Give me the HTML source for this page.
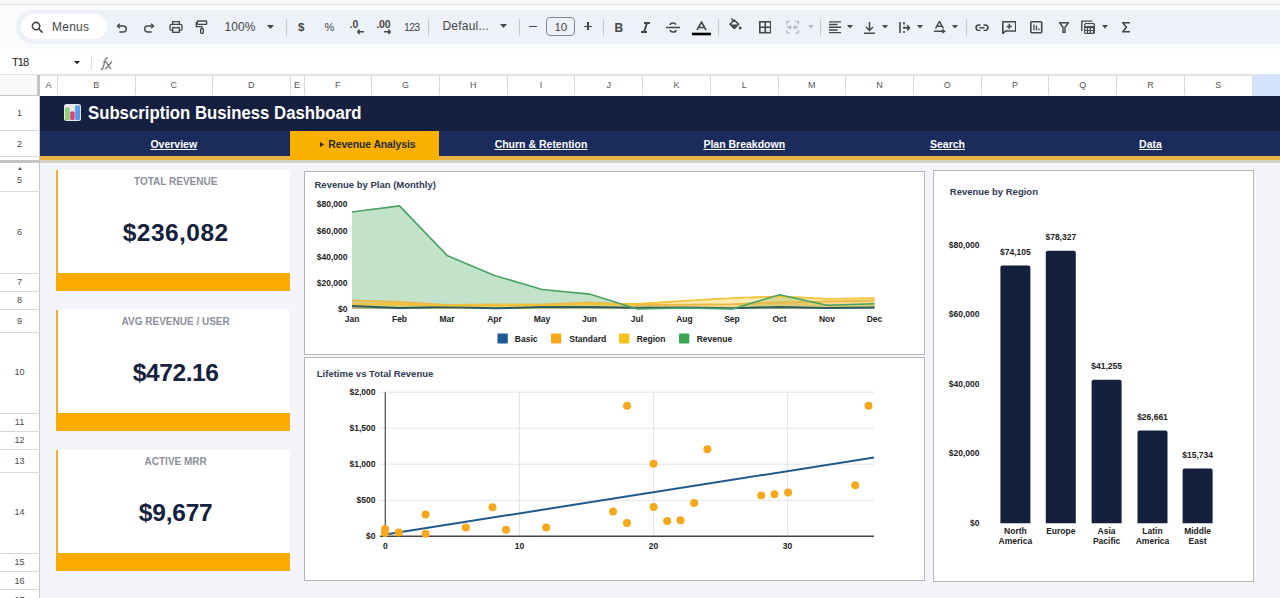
<!DOCTYPE html>
<html><head><meta charset="utf-8"><style>
*{box-sizing:border-box;margin:0;padding:0}
html,body{width:1280px;height:598px;overflow:hidden;background:#fff;font-family:"Liberation Sans",sans-serif}
.a{position:absolute}
.tt{color:#444746;font-size:13.5px;line-height:14px;white-space:nowrap}
.dv{position:absolute;width:1px;height:17px;top:18px;background:#c7c7c7}
.ic{position:absolute;top:17px;width:20px;height:20px}
.ch{position:absolute;top:74.8px;height:20px;color:#555;font-size:9px;text-align:center;line-height:20px}
.cl{position:absolute;top:75px;height:20px;width:1px;background:#d9d9d9}
.rh{position:absolute;left:0;width:39px;color:#4a4a4a;font-size:9px;text-align:center}
.rl{position:absolute;left:0;width:39.5px;height:1px;background:#d9d9d9}
.card{position:absolute;background:#fff;border-left:2.6px solid #f1b02a}
.bar{position:absolute;background:#fbab00}
.klbl{position:absolute;color:#8b909b;font-weight:bold;font-size:10px;text-align:center}
.kval{position:absolute;color:#16213e;font-weight:bold;font-size:24.5px;text-align:center;line-height:30px}
.chart{position:absolute;background:#fff;border:1px solid #b5b5b5}
.nav{position:absolute;color:#fff;font-weight:bold;font-size:10.5px;text-decoration:underline;text-align:center;line-height:14px;top:137px;white-space:nowrap}
svg text{font-family:"Liberation Sans",sans-serif}
</style></head><body>
<div class="a" style="left:0;top:0;width:1280px;height:4px;background:#f8f8f7"></div>
<div class="a" style="left:0;top:4px;width:1280px;height:1px;background:#e3e3e3"></div>
<div class="a" style="left:0;top:5px;width:1280px;height:44px;background:#f9fbfd"></div>
<div class="a" style="left:16px;top:10px;width:1300px;height:34px;background:#eef2f8;border-radius:17px"></div>
<div class="a" style="left:21px;top:14px;width:86px;height:25px;background:#fff;border-radius:12.5px"></div>
<svg class="a" style="left:30.6px;top:20.6px" width="12" height="12" viewBox="0 0 13 13"><circle cx="5.5" cy="5.5" r="4" fill="none" stroke="#444746" stroke-width="1.7"/><path d="M8.4 8.4L12 12" stroke="#444746" stroke-width="1.8" stroke-linecap="round"/></svg>
<div class="a tt" style="left:52px;top:19.6px;font-size:12px;letter-spacing:0.25px">Menus</div>
<svg class="a" style="left:113.5px;top:19.0px" width="16" height="16" viewBox="0 0 24 24"><path d="M9 7L5 10.5L9 14" fill="none" stroke="#444746" stroke-width="2" stroke-linejoin="round"/><path d="M5.5 10.5H14a4.5 4.5 0 0 1 0 9H8" fill="none" stroke="#444746" stroke-width="2"/></svg>
<svg class="a" style="left:140.5px;top:19.0px" width="16" height="16" viewBox="0 0 24 24"><g transform="translate(24,0) scale(-1,1)"><path d="M9 7L5 10.5L9 14" fill="none" stroke="#444746" stroke-width="2" stroke-linejoin="round"/><path d="M5.5 10.5H14a4.5 4.5 0 0 1 0 9H8" fill="none" stroke="#444746" stroke-width="2"/></g></svg>
<svg class="a" style="left:168.0px;top:19.0px" width="16" height="16" viewBox="0 0 24 24"><path d="M7 8V4h10v4" fill="none" stroke="#444746" stroke-width="2"/><rect x="3" y="8" width="18" height="9" rx="2.5" fill="none" stroke="#444746" stroke-width="2"/><rect x="7" y="13" width="10" height="7" fill="#eef2f8" stroke="#444746" stroke-width="2"/></svg>
<svg class="a" style="left:194.0px;top:18.0px" width="16" height="18" viewBox="0 0 24 24"><rect x="5" y="3" width="14" height="5" rx="1" fill="none" stroke="#444746" stroke-width="2"/><path d="M5 5.5H3.5v6H12v3" fill="none" stroke="#444746" stroke-width="2"/><rect x="10" y="14.5" width="4" height="7" rx="1" fill="none" stroke="#444746" stroke-width="2"/></svg>
<div class="a tt" style="left:224.5px;top:20px;font-size:12px;letter-spacing:0.1px">100%</div>
<svg class="a" style="left:266.5px;top:24.5px" width="7" height="4" viewBox="0 0 7 4"><path d="M0 0h7L3.5 4z" fill="#444746"/></svg>
<div class="dv" style="left:285.5px;top:19px"></div>
<div class="a tt" style="left:298px;top:20px;font-size:11.5px;font-weight:bold">$</div>
<div class="a tt" style="left:324.5px;top:19.5px;font-size:11px">%</div>
<svg class="a" style="left:348px;top:15px" width="24" height="22" viewBox="0 0 24 22"><text x="1.5" y="13.2" font-size="10.5" font-weight="bold" fill="#444746">.0</text><path d="M9.5 16.7h6.5M9.5 16.7l2.2-2.2M9.5 16.7l2.2 2.2" stroke="#444746" stroke-width="1.5" fill="none"/></svg>
<svg class="a" style="left:375px;top:15px" width="24" height="22" viewBox="0 0 24 22"><text x="1.5" y="13.2" font-size="10.5" font-weight="bold" fill="#444746" letter-spacing="-0.3">.00</text><path d="M9 16.7h6.5M15.5 16.7l-2.2-2.2M15.5 16.7l-2.2 2.2" stroke="#444746" stroke-width="1.5" fill="none"/></svg>
<div class="a tt" style="left:404px;top:19.8px;font-size:10.5px;letter-spacing:-0.7px">123</div>
<div class="dv" style="left:428px;top:19px"></div>
<div class="a tt" style="left:442.5px;top:18.9px;font-size:12px;letter-spacing:0.2px">Defaul...</div>
<svg class="a" style="left:499.5px;top:24.3px" width="7" height="4" viewBox="0 0 7 4"><path d="M0 0h7L3.5 4z" fill="#444746"/></svg>
<div class="dv" style="left:519px;top:19px"></div>
<div class="a" style="left:528.8px;top:25.7px;width:8.5px;height:1.4px;background:#444746"></div>
<div class="a" style="left:546.3px;top:16.9px;width:29px;height:19.6px;border:1px solid #80868b;border-radius:4px"></div>
<div class="a tt" style="left:546.3px;width:29px;text-align:center;top:19.6px;font-size:11.5px">10</div>
<div class="a" style="left:583.8px;top:25.8px;width:8.2px;height:1.4px;background:#444746"></div>
<div class="a" style="left:587.2px;top:22.3px;width:1.4px;height:8.2px;background:#444746"></div>
<div class="dv" style="left:602.5px;top:19px"></div>
<div class="a tt" style="left:614.5px;top:21px;font-size:12px;font-weight:bold">B</div>
<svg class="a" style="left:641px;top:22px" width="9" height="11" viewBox="0 0 9 11"><path d="M3 1h6M0 10h6M6 1L3 10" stroke="#444746" stroke-width="1.9" fill="none"/></svg>
<svg class="a" style="left:666px;top:22px" width="14" height="11" viewBox="0 0 14 11"><path d="M10 2.6C9.5 1.6 8.4 1 7 1 5.4 1 4.2 1.9 4.2 3.1M3.9 8c.4 1.3 1.5 2 3.1 2 1.8 0 3-.9 3-2.1" stroke="#444746" stroke-width="1.6" fill="none"/><path d="M0 5.5h14" stroke="#444746" stroke-width="1.5"/></svg>
<svg class="a" style="left:692px;top:20.5px" width="19" height="15" viewBox="0 0 19 15"><path d="M5 9L9.5 1l4.5 8M6.7 6.5h5.6" stroke="#444746" stroke-width="1.6" fill="none"/><rect x="0" y="11.7" width="19" height="2.6" fill="#000"/></svg>
<div class="dv" style="left:718px;top:19px"></div>
<svg class="a" style="left:729px;top:18px" width="13" height="12" viewBox="0 0 13 12"><path d="M1 6.2L5.3 2l4.3 4.2L5.3 10.5z" fill="none" stroke="#444746" stroke-width="1.6" stroke-linejoin="round"/><path d="M1.5 6.5h7.7L5.3 10z" fill="#444746"/><path d="M2.3 0.5l3 3" stroke="#444746" stroke-width="1.5"/><circle cx="11.2" cy="10" r="1.4" fill="#444746"/></svg>
<svg class="a" style="left:758.5px;top:21px" width="12.5" height="12.5" viewBox="0 0 12.5 12.5"><rect x="0.8" y="0.8" width="10.9" height="10.9" fill="none" stroke="#444746" stroke-width="1.6"/><path d="M6.25 0.8v10.9M0.8 6.25h10.9" stroke="#444746" stroke-width="1.6"/></svg>
<svg class="a" style="left:786px;top:21px" width="13" height="12.5" viewBox="0 0 13 12.5"><path d="M0.7 3.5V0.7h3M9.3 0.7h3v2.8M0.7 9v2.8h3M9.3 11.8h3V9M1 6.25h3.8M12 6.25H8.2M3.5 4.5L5.2 6.25 3.5 8M9.5 4.5L7.8 6.25 9.5 8" stroke="#b5b8bd" stroke-width="1.3" fill="none"/></svg>
<svg class="a" style="left:807.5px;top:25.25px" width="6" height="3.5" viewBox="0 0 6 3.5"><path d="M0 0h6L3.0 3.5z" fill="#b5b8bd"/></svg>
<div class="dv" style="left:820px;top:19px"></div>
<svg class="a" style="left:828.7px;top:21px" width="12.5" height="12.5" viewBox="0 0 12.5 12.5"><path d="M0 0.8h12.3M0 3.5h8.5M0 6.25h12.3M0 9h8.5M0 11.7h12.3" stroke="#444746" stroke-width="1.3"/></svg>
<svg class="a" style="left:847.2px;top:25.45px" width="6" height="3.5" viewBox="0 0 6 3.5"><path d="M0 0h6L3.0 3.5z" fill="#444746"/></svg>
<svg class="a" style="left:863.5px;top:21.5px" width="11" height="12" viewBox="0 0 11 12"><path d="M5.5 0v8M2 5l3.5 3.5L9 5M0 11.2h11" stroke="#444746" stroke-width="1.5" fill="none"/></svg>
<svg class="a" style="left:882.2px;top:25.45px" width="6" height="3.5" viewBox="0 0 6 3.5"><path d="M0 0h6L3.0 3.5z" fill="#444746"/></svg>
<svg class="a" style="left:898.5px;top:21.5px" width="11" height="11.5" viewBox="0 0 11 11.5"><path d="M1 0v11.5M5 0v2.5M5 4.5v2.5M5 9v2.5M4.5 5.75h6M8 3.2l2.6 2.55L8 8.3" stroke="#444746" stroke-width="1.6" fill="none"/></svg>
<svg class="a" style="left:917.2px;top:25.45px" width="6" height="3.5" viewBox="0 0 6 3.5"><path d="M0 0h6L3.0 3.5z" fill="#444746"/></svg>
<svg class="a" style="left:934px;top:21px" width="12" height="13" viewBox="0 0 12 13"><path d="M1.5 7.5L5.5 0.5l4 7M2.8 5.2h5.4M0 10.3h9.5M8.3 8.6l2.2 1.7-2.2 1.7" stroke="#444746" stroke-width="1.5" fill="none"/></svg>
<svg class="a" style="left:951.7px;top:25.45px" width="6" height="3.5" viewBox="0 0 6 3.5"><path d="M0 0h6L3.0 3.5z" fill="#444746"/></svg>
<div class="dv" style="left:965.5px;top:19px"></div>
<svg class="a" style="left:975px;top:23.5px" width="14" height="7.5" viewBox="0 0 14 7.5"><path d="M5.5 1H3.8a2.75 2.75 0 0 0 0 5.5h1.7M8.5 1h1.7a2.75 2.75 0 0 1 0 5.5H8.5M4.5 3.75h5" stroke="#444746" stroke-width="1.6" fill="none"/></svg>
<svg class="a" style="left:1001.5px;top:20.5px" width="14.5" height="13" viewBox="0 0 14.5 13"><path d="M0.8 0.8h12.9v9.2H3.6L0.8 12.5z" stroke="#444746" stroke-width="1.6" fill="none" stroke-linejoin="round"/><path d="M7.25 2.8v5.2M4.65 5.4h5.2" stroke="#444746" stroke-width="1.5"/></svg>
<svg class="a" style="left:1030px;top:21px" width="12.5" height="12.5" viewBox="0 0 12.5 12.5"><rect x="0.8" y="0.8" width="10.9" height="10.9" rx="1" stroke="#444746" stroke-width="1.6" fill="none"/><path d="M4 9.3V3.5M6.5 9.3V4.5M9 9.3V7.5" stroke="#444746" stroke-width="1.3"/></svg>
<svg class="a" style="left:1058.5px;top:22px" width="10" height="10.5" viewBox="0 0 10 10.5"><path d="M0.5 0.8h9L6 5.3v5.2H4V5.3z" stroke="#444746" stroke-width="1.4" fill="none" stroke-linejoin="round"/></svg>
<svg class="a" style="left:1080px;top:19px" width="16" height="16" viewBox="0 0 16 16"><path d="M1.8 12V2.1H12.3" stroke="#444746" stroke-width="1.4" fill="none"/><rect x="4.1" y="4" width="10.8" height="11" rx="1.5" fill="#444746"/><g fill="#eef2f8"><rect x="5.4" y="5.1" width="8.2" height="2"/><rect x="5.2" y="9.1" width="1.7" height="1.9"/><rect x="8.1" y="9.1" width="1.7" height="1.9"/><rect x="11" y="9.1" width="2" height="1.9"/><rect x="5.2" y="12" width="1.7" height="1.8"/><rect x="8.1" y="12" width="1.7" height="1.8"/><rect x="11" y="12" width="2" height="1.8"/></g></svg>
<svg class="a" style="left:1101.5px;top:25.25px" width="6" height="3.5" viewBox="0 0 6 3.5"><path d="M0 0h6L3.0 3.5z" fill="#444746"/></svg>
<svg class="a" style="left:1121.5px;top:22px" width="8.5" height="10.5" viewBox="0 0 8.5 10.5"><path d="M8 0.8H0.8l3.6 4.45L0.8 9.7H8" stroke="#444746" stroke-width="1.6" fill="none"/></svg>
<div class="a" style="left:12px;top:56px;font-size:11px;color:#202124;letter-spacing:-0.9px">T18</div>
<svg class="a" style="left:74.0px;top:60.6px" width="6" height="3.2" viewBox="0 0 6 3.2"><path d="M0 0h6L3.0 3.2z" fill="#202124"/></svg>
<div class="a" style="left:91px;top:56px;width:1px;height:14px;background:#dadce0"></div>
<svg class="a" style="left:100px;top:56.5px" width="13" height="13" viewBox="0 0 13 13"><path d="M0.6 12.1Q2.5 12.9 3.3 10L5.2 2.9Q5.9 0.6 7.9 1.1M3.2 4.9H6.9M6 4.8L10.9 12.2M11.9 4.8L5.3 12.2" stroke="#7a7a7a" stroke-width="1.3" fill="none"/></svg>
<div class="a" style="left:0;top:74px;width:1280px;height:1.7px;background:#e2e2e2"></div>
<div class="a" style="left:0;top:75px;width:36.5px;height:20.5px;background:#f8f9fa"></div>
<div class="a" style="left:36.5px;top:75px;width:3px;height:20.5px;background:#c4c4c4"></div>
<div class="a" style="left:1252px;top:75px;width:28px;height:20.5px;background:#d3e3fd"></div>
<div class="ch" style="left:39.5px;width:18.0px">A</div>
<div class="ch" style="left:57.5px;width:77.5px">B</div>
<div class="cl" style="left:57.0px"></div>
<div class="ch" style="left:135px;width:77.5px">C</div>
<div class="cl" style="left:134.5px"></div>
<div class="ch" style="left:212.5px;width:77.5px">D</div>
<div class="cl" style="left:212.0px"></div>
<div class="ch" style="left:290px;width:14px">E</div>
<div class="cl" style="left:289.5px"></div>
<div class="ch" style="left:304.0px;width:67.71428571428572px">F</div>
<div class="cl" style="left:303.5px"></div>
<div class="ch" style="left:371.7142857142857px;width:67.71428571428572px">G</div>
<div class="cl" style="left:371.2142857142857px"></div>
<div class="ch" style="left:439.42857142857144px;width:67.71428571428572px">H</div>
<div class="cl" style="left:438.92857142857144px"></div>
<div class="ch" style="left:507.14285714285717px;width:67.71428571428572px">I</div>
<div class="cl" style="left:506.64285714285717px"></div>
<div class="ch" style="left:574.8571428571429px;width:67.71428571428567px">J</div>
<div class="cl" style="left:574.3571428571429px"></div>
<div class="ch" style="left:642.5714285714286px;width:67.71428571428567px">K</div>
<div class="cl" style="left:642.0714285714286px"></div>
<div class="ch" style="left:710.2857142857142px;width:67.71428571428567px">L</div>
<div class="cl" style="left:709.7857142857142px"></div>
<div class="ch" style="left:777.9999999999999px;width:67.71428571428567px">M</div>
<div class="cl" style="left:777.4999999999999px"></div>
<div class="ch" style="left:845.7142857142856px;width:67.71428571428567px">N</div>
<div class="cl" style="left:845.2142857142856px"></div>
<div class="ch" style="left:913.4285714285712px;width:67.71428571428567px">O</div>
<div class="cl" style="left:912.9285714285712px"></div>
<div class="ch" style="left:981.1428571428569px;width:67.71428571428578px">P</div>
<div class="cl" style="left:980.6428571428569px"></div>
<div class="ch" style="left:1048.8571428571427px;width:67.71428571428578px">Q</div>
<div class="cl" style="left:1048.3571428571427px"></div>
<div class="ch" style="left:1116.5714285714284px;width:67.71428571428578px">R</div>
<div class="cl" style="left:1116.0714285714284px"></div>
<div class="ch" style="left:1184.2857142857142px;width:67.71428571428578px">S</div>
<div class="cl" style="left:1183.7857142857142px"></div>
<div class="cl" style="left:1251.5px"></div>
<div class="a" style="left:0;top:95px;width:39.5px;height:1px;background:#c4c4c4"></div>
<div class="a" style="left:39.5px;top:160px;width:1241px;height:438px;background:#f3f5fa"></div>
<div class="a" style="left:0;top:95.5px;width:39.5px;height:503px;background:#fff"></div>
<div class="a" style="left:39px;top:95.5px;width:1px;height:503px;background:#c6c6c6"></div>
<div class="rh" style="top:95.5px;height:35.0px;line-height:35.0px">1</div>
<div class="rl" style="top:130.0px"></div>
<div class="rh" style="top:130.5px;height:26.0px;line-height:26.0px">2</div>
<div class="rl" style="top:156.0px"></div>
<div class="rh" style="top:170px;height:21.80000000000001px;line-height:21.80000000000001px">5</div>
<div class="rl" style="top:191.3px"></div>
<div class="rh" style="top:191.8px;height:81.19999999999999px;line-height:81.19999999999999px">6</div>
<div class="rl" style="top:272.5px"></div>
<div class="rh" style="top:273px;height:18.399999999999977px;line-height:18.399999999999977px">7</div>
<div class="rl" style="top:290.9px"></div>
<div class="rh" style="top:291.4px;height:18.400000000000034px;line-height:18.400000000000034px">8</div>
<div class="rl" style="top:309.3px"></div>
<div class="rh" style="top:309.8px;height:22.399999999999977px;line-height:22.399999999999977px">9</div>
<div class="rl" style="top:331.7px"></div>
<div class="rh" style="top:332.2px;height:80.80000000000001px;line-height:80.80000000000001px">10</div>
<div class="rl" style="top:412.5px"></div>
<div class="rh" style="top:413px;height:18.399999999999977px;line-height:18.399999999999977px">11</div>
<div class="rl" style="top:430.9px"></div>
<div class="rh" style="top:431.4px;height:18.400000000000034px;line-height:18.400000000000034px">12</div>
<div class="rl" style="top:449.3px"></div>
<div class="rh" style="top:449.8px;height:22.399999999999977px;line-height:22.399999999999977px">13</div>
<div class="rl" style="top:471.7px"></div>
<div class="rh" style="top:472.2px;height:81.00000000000006px;line-height:81.00000000000006px">14</div>
<div class="rl" style="top:552.7px"></div>
<div class="rh" style="top:553.2px;height:18.399999999999977px;line-height:18.399999999999977px">15</div>
<div class="rl" style="top:571.1px"></div>
<div class="rh" style="top:571.6px;height:18.0px;line-height:18.0px">16</div>
<div class="rl" style="top:589.1px"></div>
<div class="rh" style="top:589.6px;height:20.399999999999977px;line-height:20.399999999999977px">17</div>
<div class="rl" style="top:609.5px"></div>
<div class="a" style="left:39.5px;top:95.5px;width:1241px;height:35px;background:#152040"></div>
<div class="a" style="left:39.5px;top:130.5px;width:1241px;height:26px;background:#1b2b5c"></div>
<div class="a" style="left:39.5px;top:156px;width:1241px;height:4px;background:#e7b143"></div>
<div class="a" style="left:290px;top:130.5px;width:149px;height:29.5px;background:#fab000"></div>
<div class="a" style="left:0;top:159.5px;width:39.5px;height:3.5px;background:#c4c4c4"></div>
<div class="a" style="left:39.5px;top:160px;width:1241px;height:3px;background:#d6d2c8"></div>
<svg class="a" style="left:18.3px;top:166.8px" width="4" height="3" viewBox="0 0 4 3"><path d="M0 3L2 0l2 3z" fill="#555"/></svg>
<svg class="a" style="left:63.8px;top:104px" width="17" height="17" viewBox="0 0 17 17"><rect x="0" y="0" width="17" height="17" rx="2.5" fill="#e6e8ef"/><rect x="1" y="3.5" width="4.8" height="12.5" rx="1" fill="#8ed37a"/><rect x="6.2" y="7.5" width="4.4" height="8.5" rx="1" fill="#d9467a"/><rect x="11.1" y="1.5" width="4.9" height="14.5" rx="1" fill="#5b9be8"/></svg>
<div class="a" style="left:88px;top:101.5px;color:#fff;font-weight:bold;font-size:18px;line-height:22px;white-space:nowrap;transform:scaleX(0.93);transform-origin:0 0">Subscription Business Dashboard</div>
<div class="nav" style="left:57.5px;width:232.5px">Overview</div>
<div class="nav" style="left:439.5px;width:203.0px">Churn &amp; Retention</div>
<div class="nav" style="left:642.5px;width:203.5px">Plan Breakdown</div>
<div class="nav" style="left:846px;width:203px">Search</div>
<div class="nav" style="left:1049px;width:203px">Data</div>
<div class="nav" style="left:328.3px;color:#2a2a2e;text-decoration:none;text-align:left;letter-spacing:-0.15px">Revenue Analysis</div>
<svg class="a" style="left:319.8px;top:141.6px" width="4" height="5" viewBox="0 0 4 5"><path d="M0 0l4 2.5-4 2.5z" fill="#2a2a2e"/></svg>
<div class="card" style="left:56px;top:169.7px;width:234px;height:121.70000000000002px"></div>
<div class="bar" style="left:56px;top:273.0px;width:234px;height:18.4px"></div>
<div class="klbl" style="left:60.2px;top:175.7px;width:231px">TOTAL REVENUE</div>
<div class="kval" style="left:60.2px;top:218.0px;width:231px;letter-spacing:0.45px">$236,082</div>
<div class="card" style="left:56px;top:309.6px;width:234px;height:121.70000000000002px"></div>
<div class="bar" style="left:56px;top:412.90000000000003px;width:234px;height:18.4px"></div>
<div class="klbl" style="left:60.2px;top:315.6px;width:231px">AVG REVENUE / USER</div>
<div class="kval" style="left:60.2px;top:357.90000000000003px;width:231px;letter-spacing:-0.4px">$472.16</div>
<div class="card" style="left:56px;top:449.6px;width:234px;height:121.70000000000002px"></div>
<div class="bar" style="left:56px;top:552.9px;width:234px;height:18.4px"></div>
<div class="klbl" style="left:60.2px;top:455.6px;width:231px">ACTIVE MRR</div>
<div class="kval" style="left:60.2px;top:497.90000000000003px;width:231px;letter-spacing:-0.2px">$9,677</div>
<div class="chart" style="left:304px;top:170.5px;width:620.5px;height:184px"></div>
<div class="chart" style="left:304px;top:357px;width:620.5px;height:224px"></div>
<div class="chart" style="left:933px;top:170.3px;width:321px;height:411.5px"></div>
<svg class="a" style="left:0;top:0" width="1280" height="598" viewBox="0 0 1280 598">
<text x="314.5" y="187.8" font-size="9.5" font-weight="bold" fill="#2f3a56">Revenue by Plan (Monthly)</text>
<text x="347.5" y="207.3" font-size="8.5" font-weight="bold" fill="#222" text-anchor="end">$80,000</text>
<text x="347.5" y="233.5" font-size="8.5" font-weight="bold" fill="#222" text-anchor="end">$60,000</text>
<text x="347.5" y="259.8" font-size="8.5" font-weight="bold" fill="#222" text-anchor="end">$40,000</text>
<text x="347.5" y="286.0" font-size="8.5" font-weight="bold" fill="#222" text-anchor="end">$20,000</text>
<text x="347.5" y="312.2" font-size="8.5" font-weight="bold" fill="#222" text-anchor="end">$0</text>
<text x="352.0" y="322" font-size="8.5" font-weight="bold" fill="#222" text-anchor="middle">Jan</text>
<text x="399.5" y="322" font-size="8.5" font-weight="bold" fill="#222" text-anchor="middle">Feb</text>
<text x="447.0" y="322" font-size="8.5" font-weight="bold" fill="#222" text-anchor="middle">Mar</text>
<text x="494.5" y="322" font-size="8.5" font-weight="bold" fill="#222" text-anchor="middle">Apr</text>
<text x="542.0" y="322" font-size="8.5" font-weight="bold" fill="#222" text-anchor="middle">May</text>
<text x="589.5" y="322" font-size="8.5" font-weight="bold" fill="#222" text-anchor="middle">Jun</text>
<text x="637.0" y="322" font-size="8.5" font-weight="bold" fill="#222" text-anchor="middle">Jul</text>
<text x="684.5" y="322" font-size="8.5" font-weight="bold" fill="#222" text-anchor="middle">Aug</text>
<text x="732.0" y="322" font-size="8.5" font-weight="bold" fill="#222" text-anchor="middle">Sep</text>
<text x="779.5" y="322" font-size="8.5" font-weight="bold" fill="#222" text-anchor="middle">Oct</text>
<text x="827.0" y="322" font-size="8.5" font-weight="bold" fill="#222" text-anchor="middle">Nov</text>
<text x="874.5" y="322" font-size="8.5" font-weight="bold" fill="#222" text-anchor="middle">Dec</text>
<polygon points="352.0,309.0 352.0,212.0 399.5,205.9 447.0,255.4 494.5,275.4 542.0,289.5 589.5,294.1 637.0,309.0 684.5,308.0 732.0,309.0 779.5,294.8 827.0,305.3 874.5,303.8 874.5,309.0" fill="#3aa655" fill-opacity="0.31"/>
<polygon points="352.0,309.0 352.0,303.8 399.5,304.0 447.0,305.7 494.5,305.3 542.0,305.1 589.5,303.8 637.0,304.0 684.5,300.9 732.0,298.1 779.5,296.4 827.0,298.8 874.5,298.2 874.5,309.0" fill="#f9c21a" fill-opacity="0.33"/>
<polygon points="352.0,309.0 352.0,300.5 399.5,302.1 447.0,305.1 494.5,304.4 542.0,304.4 589.5,302.4 637.0,305.1 684.5,304.7 732.0,304.3 779.5,302.4 827.0,301.4 874.5,300.5 874.5,309.0" fill="#f7a81b" fill-opacity="0.25"/>
<polygon points="352.0,309.0 352.0,306.1 399.5,308.0 447.0,307.0 494.5,308.3 542.0,307.0 589.5,307.0 637.0,307.7 684.5,307.4 732.0,308.2 779.5,306.9 827.0,308.0 874.5,307.6 874.5,309.0" fill="#1f5a96" fill-opacity="0.2"/>
<polyline points="352.0,306.1 399.5,308.0 447.0,307.0 494.5,308.3 542.0,307.0 589.5,307.0 637.0,307.7 684.5,307.4 732.0,308.2 779.5,306.9 827.0,308.0 874.5,307.6" fill="none" stroke="#2c5e62" stroke-width="2" stroke-linejoin="round"/>
<polyline points="352.0,300.5 399.5,302.1 447.0,305.1 494.5,304.4 542.0,304.4 589.5,302.4 637.0,305.1 684.5,304.7 732.0,304.3 779.5,302.4 827.0,301.4 874.5,300.5" fill="none" stroke="#e9b94a" stroke-width="2" stroke-linejoin="round"/>
<polyline points="352.0,303.8 399.5,304.0 447.0,305.7 494.5,305.3 542.0,305.1 589.5,303.8 637.0,304.0 684.5,300.9 732.0,298.1 779.5,296.4 827.0,298.8 874.5,298.2" fill="none" stroke="#f3c237" stroke-width="1.8" stroke-linejoin="round"/>
<polyline points="352.0,212.0 399.5,205.9 447.0,255.4 494.5,275.4 542.0,289.5 589.5,294.1 637.0,309.0 684.5,308.0 732.0,309.0 779.5,294.8 827.0,305.3 874.5,303.8" fill="none" stroke="#48a362" stroke-width="1.6" stroke-linejoin="round"/>
<rect x="497.5" y="333.5" width="10.3" height="10" rx="1" fill="#1f5a96"/>
<text x="514.8" y="341.5" font-size="8.5" font-weight="bold" fill="#222">Basic</text>
<rect x="551" y="333.5" width="10.3" height="10" rx="1" fill="#f7a81b"/>
<text x="569.3" y="341.5" font-size="8.5" font-weight="bold" fill="#222">Standard</text>
<rect x="619" y="333.5" width="10.3" height="10" rx="1" fill="#f9c21a"/>
<text x="636.7" y="341.5" font-size="8.5" font-weight="bold" fill="#222">Region</text>
<rect x="679" y="333.5" width="10.3" height="10" rx="1" fill="#3aa655"/>
<text x="696.7" y="341.5" font-size="8.5" font-weight="bold" fill="#222">Revenue</text>
<text x="316.8" y="377.3" font-size="9.5" font-weight="bold" fill="#2f3a56">Lifetime vs Total Revenue</text>
<line x1="379" x2="874" y1="500.3" y2="500.3" stroke="#e4e4e4" stroke-width="1"/>
<line x1="379" x2="874" y1="464.2" y2="464.2" stroke="#e4e4e4" stroke-width="1"/>
<line x1="379" x2="874" y1="428.2" y2="428.2" stroke="#e4e4e4" stroke-width="1"/>
<line x1="379" x2="874" y1="392.2" y2="392.2" stroke="#e4e4e4" stroke-width="1"/>
<line x1="519.4" x2="519.4" y1="392.2" y2="536.3" stroke="#e4e4e4" stroke-width="1"/>
<line x1="653.5" x2="653.5" y1="392.2" y2="536.3" stroke="#e4e4e4" stroke-width="1"/>
<line x1="787.6" x2="787.6" y1="392.2" y2="536.3" stroke="#e4e4e4" stroke-width="1"/>
<text x="375.5" y="538.8" font-size="8.5" font-weight="bold" fill="#222" text-anchor="end">$0</text>
<text x="375.5" y="502.8" font-size="8.5" font-weight="bold" fill="#222" text-anchor="end">$500</text>
<text x="375.5" y="466.8" font-size="8.5" font-weight="bold" fill="#222" text-anchor="end">$1,000</text>
<text x="375.5" y="430.7" font-size="8.5" font-weight="bold" fill="#222" text-anchor="end">$1,500</text>
<text x="375.5" y="394.7" font-size="8.5" font-weight="bold" fill="#222" text-anchor="end">$2,000</text>
<text x="385.3" y="548.5" font-size="8.5" font-weight="bold" fill="#222" text-anchor="middle">0</text>
<text x="519.4" y="548.5" font-size="8.5" font-weight="bold" fill="#222" text-anchor="middle">10</text>
<text x="653.5" y="548.5" font-size="8.5" font-weight="bold" fill="#222" text-anchor="middle">20</text>
<text x="787.6" y="548.5" font-size="8.5" font-weight="bold" fill="#222" text-anchor="middle">30</text>
<line x1="385.3" x2="385.3" y1="392.2" y2="536.3" stroke="#555" stroke-width="1.3"/>
<line x1="380" x2="874" y1="536.3" y2="536.3" stroke="#444" stroke-width="1.6"/>
<line x1="385.3" y1="534.5" x2="874" y2="457.5" stroke="#1f5a8a" stroke-width="2"/>
<circle cx="385" cy="529" r="4" fill="#f5a81c"/>
<circle cx="385" cy="533" r="4" fill="#f5a81c"/>
<circle cx="398.75" cy="532.5" r="4" fill="#f5a81c"/>
<circle cx="425.6" cy="514.5" r="4" fill="#f5a81c"/>
<circle cx="425.6" cy="533.75" r="4" fill="#f5a81c"/>
<circle cx="465.8" cy="527.5" r="4" fill="#f5a81c"/>
<circle cx="492.5" cy="507.2" r="4" fill="#f5a81c"/>
<circle cx="506" cy="529.8" r="4" fill="#f5a81c"/>
<circle cx="546.25" cy="527.5" r="4" fill="#f5a81c"/>
<circle cx="613" cy="511.4" r="4" fill="#f5a81c"/>
<circle cx="627.1" cy="405.8" r="4" fill="#f5a81c"/>
<circle cx="627" cy="523" r="4" fill="#f5a81c"/>
<circle cx="653.6" cy="463.7" r="4" fill="#f5a81c"/>
<circle cx="653.6" cy="507" r="4" fill="#f5a81c"/>
<circle cx="667.2" cy="521" r="4" fill="#f5a81c"/>
<circle cx="680.5" cy="520.3" r="4" fill="#f5a81c"/>
<circle cx="694.2" cy="503" r="4" fill="#f5a81c"/>
<circle cx="707.4" cy="449.2" r="4" fill="#f5a81c"/>
<circle cx="761.2" cy="495.4" r="4" fill="#f5a81c"/>
<circle cx="774.5" cy="494.2" r="4" fill="#f5a81c"/>
<circle cx="788.1" cy="492.6" r="4" fill="#f5a81c"/>
<circle cx="855.2" cy="485.3" r="4" fill="#f5a81c"/>
<circle cx="868.5" cy="405.8" r="4" fill="#f5a81c"/>
<text x="949.8" y="194.8" font-size="9.5" font-weight="bold" fill="#2f3a56">Revenue by Region</text>
<text x="979.5" y="247.6" font-size="8.5" font-weight="bold" fill="#222" text-anchor="end">$80,000</text>
<text x="979.5" y="317.2" font-size="8.5" font-weight="bold" fill="#222" text-anchor="end">$60,000</text>
<text x="979.5" y="386.8" font-size="8.5" font-weight="bold" fill="#222" text-anchor="end">$40,000</text>
<text x="979.5" y="456.3" font-size="8.5" font-weight="bold" fill="#222" text-anchor="end">$20,000</text>
<text x="979.5" y="525.9" font-size="8.5" font-weight="bold" fill="#222" text-anchor="end">$0</text>
<path d="M1000.4 523.3V267.50723124999996q0-2 2-2h26q2 0 2 2V523.3z" fill="#14213d"/>
<text x="1015.4" y="254.7" font-size="8.5" font-weight="bold" fill="#222" text-anchor="middle">$74,105</text>
<text x="1015.4" y="534.3" font-size="8.5" font-weight="bold" fill="#222" text-anchor="middle">North</text>
<text x="1015.4" y="543.6" font-size="8.5" font-weight="bold" fill="#222" text-anchor="middle">America</text>
<path d="M1045.8 523.3V252.81994874999992q0-2 2-2h26q2 0 2 2V523.3z" fill="#14213d"/>
<text x="1060.8" y="240.0" font-size="8.5" font-weight="bold" fill="#222" text-anchor="middle">$78,327</text>
<text x="1060.8" y="534.3" font-size="8.5" font-weight="bold" fill="#222" text-anchor="middle">Europe</text>
<path d="M1091.6 523.3V381.78416874999994q0-2 2-2h26q2 0 2 2V523.3z" fill="#14213d"/>
<text x="1106.6" y="369.0" font-size="8.5" font-weight="bold" fill="#222" text-anchor="middle">$41,255</text>
<text x="1106.6" y="534.3" font-size="8.5" font-weight="bold" fill="#222" text-anchor="middle">Asia</text>
<text x="1106.6" y="543.6" font-size="8.5" font-weight="bold" fill="#222" text-anchor="middle">Pacific</text>
<path d="M1137.5 523.3V432.55304624999997q0-2 2-2h26q2 0 2 2V523.3z" fill="#14213d"/>
<text x="1152.5" y="419.8" font-size="8.5" font-weight="bold" fill="#222" text-anchor="middle">$26,661</text>
<text x="1152.5" y="534.3" font-size="8.5" font-weight="bold" fill="#222" text-anchor="middle">Latin</text>
<text x="1152.5" y="543.6" font-size="8.5" font-weight="bold" fill="#222" text-anchor="middle">America</text>
<path d="M1182.6 523.3V470.5653475q0-2 2-2h26q2 0 2 2V523.3z" fill="#14213d"/>
<text x="1197.6" y="457.8" font-size="8.5" font-weight="bold" fill="#222" text-anchor="middle">$15,734</text>
<text x="1197.6" y="534.3" font-size="8.5" font-weight="bold" fill="#222" text-anchor="middle">Middle</text>
<text x="1197.6" y="543.6" font-size="8.5" font-weight="bold" fill="#222" text-anchor="middle">East</text>
</svg>
</body></html>
